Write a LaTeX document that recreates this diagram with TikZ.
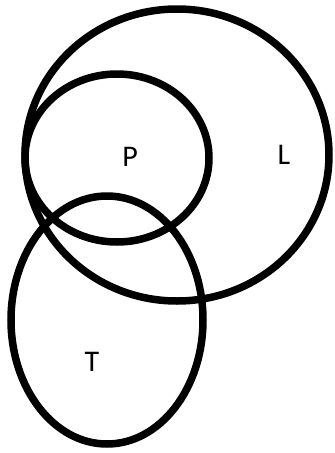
\documentclass[tikz,border=0pt]{standalone}
\usepackage{fontspec}
\setmainfont{Carlito}
\usetikzlibrary{shapes.geometric}
\begin{document}
\begin{tikzpicture}[x=1pt, y=-1pt,
        set/.style={ellipse, draw, line width=7.5pt, inner sep=0pt},
        lbl/.style={inner sep=0pt, font=\fontsize{30}{36}\selectfont}]
        \useasboundingbox (0,0) rectangle (335,453);
        \node[set, minimum width=304pt, minimum height=292pt] (L) at (177,155) {};
        \node[set, minimum width=184pt, minimum height=168pt] (P) at (117,158) {};
        \node[set, minimum width=192pt, minimum height=248pt] (T) at (107,320) {};

        \node[lbl] (Pl) at (130,157) {P};
        \node[lbl] (Ll) at (284,155) {L};
        \node[lbl] (Tl) at (92,362) {T};
    \end{tikzpicture}
\end{document}
